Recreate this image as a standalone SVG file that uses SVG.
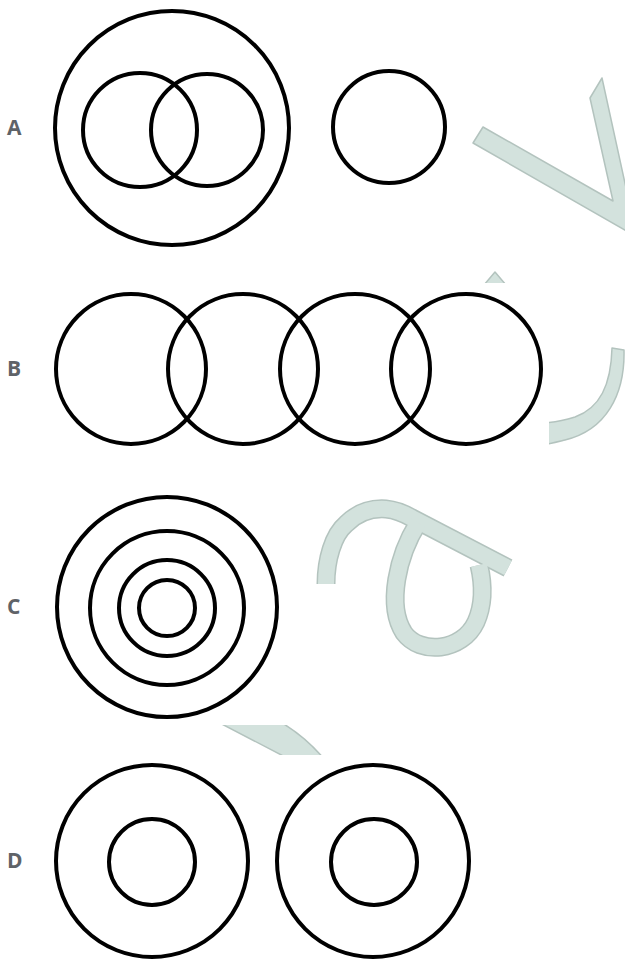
<svg xmlns="http://www.w3.org/2000/svg" width="625" height="961" viewBox="0 0 625 961">
<style>
.c{fill:none;stroke:#000;stroke-width:4}
.wm{fill:#d3e2dd;stroke:#b3c3be;stroke-width:1.5;stroke-linejoin:round}
.wmb{fill:none;stroke:#b3c3be;stroke-width:19;stroke-linecap:butt;stroke-linejoin:round}
.wmf{fill:none;stroke:#d3e2dd;stroke-width:16;stroke-linecap:butt;stroke-linejoin:round}
.lbl{font-family:"Open Sans",Roboto,"Liberation Sans",sans-serif;font-weight:700;font-size:21px;fill:#5f6368}
</style>
<defs>
<clipPath id="clipArc"><rect x="549" y="283" width="80" height="200"/></clipPath>
<clipPath id="clipTri"><rect x="470" y="260" width="50" height="23"/></clipPath>
<clipPath id="clipBand"><rect x="200" y="725" width="140" height="30"/></clipPath>
</defs>
<g id="watermark">
<polygon class="wm" points="473,143 483,127 613,201 590,98 602,78 630,206 630,233"/>
<polygon class="wm" clip-path="url(#clipTri)" points="478,292 495,272 512,292"/>
<path class="wm" clip-path="url(#clipArc)" d="M612,348 L624,350 C625,395 606,430 565,440 C557,442 550,444 540,445 L540,423 C550,423 562,421 575,417 C600,408 611,385 612,348 Z"/>
<path class="wm" clip-path="url(#clipBand)" d="M214,720 L277,720 C295,730 310,742 325,760 L291,760 Z"/>
<g id="glyph">
<path class="wmb" d="M326,584 C326,560 333,535 346,524 C358,512 372,508 386,509 C397,510 405,514 412,518 L508,568"/>
<path class="wmb" d="M418,523 C398,555 386,605 404,633 C420,655 462,652 476,622 C484,604 483,582 479,565"/>
<path class="wmf" d="M326,584 C326,560 333,535 346,524 C358,512 372,508 386,509 C397,510 405,514 412,518 L508,568"/>
<path class="wmf" d="M418,523 C398,555 386,605 404,633 C420,655 462,652 476,622 C484,604 483,582 479,565"/>
</g>
</g>
<g id="rowA">
<text class="lbl" x="7" y="135">A</text>
<circle class="c" cx="172" cy="128" r="117"/>
<circle class="c" cx="140" cy="130" r="57"/>
<circle class="c" cx="207" cy="130" r="56"/>
<circle class="c" cx="389" cy="127" r="56"/>
</g>
<g id="rowB">
<text class="lbl" x="7" y="376">B</text>
<circle class="c" cx="131" cy="369" r="75"/>
<circle class="c" cx="243" cy="369" r="75"/>
<circle class="c" cx="355" cy="369" r="75"/>
<circle class="c" cx="466" cy="369" r="75"/>
</g>
<g id="rowC">
<text class="lbl" x="7" y="614">C</text>
<circle class="c" cx="167" cy="607" r="110"/>
<circle class="c" cx="167" cy="608" r="77"/>
<circle class="c" cx="167" cy="608" r="48"/>
<circle class="c" cx="167" cy="608" r="28"/>
</g>
<g id="rowD">
<text class="lbl" x="7" y="868">D</text>
<circle class="c" cx="152" cy="861" r="96"/>
<circle class="c" cx="152" cy="862" r="43"/>
<circle class="c" cx="373" cy="861" r="96"/>
<circle class="c" cx="374" cy="862" r="43"/>
</g>
</svg>
